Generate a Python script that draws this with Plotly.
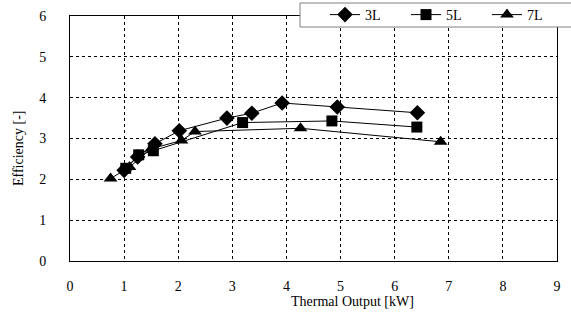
import plotly.graph_objects as go

x_3L = [1.00, 1.25, 1.57, 2.02, 2.90, 3.36, 3.92, 4.94, 6.42]
y_3L = [2.22, 2.55, 2.87, 3.19, 3.50, 3.62, 3.87, 3.77, 3.63]
x_5L = [1.03, 1.27, 1.54, 3.19, 4.84, 6.41]
y_5L = [2.27, 2.60, 2.70, 3.39, 3.43, 3.28]
x_7L = [0.75, 1.10, 1.50, 2.06, 2.31, 4.26, 6.85]
y_7L = [2.02, 2.30, 2.75, 2.95, 3.17, 3.25, 2.92]

x_ticks = [0, 1, 2, 3, 4, 5, 6, 7, 8, 9]
y_ticks = [0, 1, 2, 3, 4, 5, 6]

FONT = "Liberation Serif, DejaVu Serif, serif"

fig = go.Figure()
series = [("3L", x_3L, y_3L, "diamond", 12),
          ("5L", x_5L, y_5L, "square", 11),
          ("7L", x_7L, y_7L, "triangle-up", 12)]
for name, xs, ys, sym, sz in series:
    fig.add_trace(go.Scatter(x=xs, y=ys, name=name, mode="lines+markers",
                             line=dict(color="black", width=1),
                             marker=dict(symbol=sym, size=sz, color="black")))

L, R, T, B = 70, 557, 16, 261
W, H = R - L, B - T

def px(x):
    return (x - L) / W

def py(y):
    return (B - y) / H

fig.update_layout(
    width=571, height=320,
    margin=dict(l=L, r=571 - R, t=T, b=320 - B, autoexpand=False),
    paper_bgcolor="white", plot_bgcolor="white",
    font=dict(family=FONT, size=14, color="black"),
    showlegend=True,
    legend=dict(orientation="h", x=px(325), y=py(-1),
                xanchor="left", yanchor="top",
                bgcolor="rgba(0,0,0,0)", borderwidth=0,
                font=dict(family=FONT, size=14), itemwidth=30,
                entrywidth=36, entrywidthmode="pixels", tracegroupgap=0),
    xaxis=dict(range=[0, 9], tickvals=x_ticks, showgrid=True, gridcolor="black",
               griddash="dot", gridwidth=1, showline=True, linecolor="black",
               mirror=True, zeroline=False, ticks="", ticklabelstandoff=12,
               tickfont=dict(size=14)),
    yaxis=dict(range=[0, 6], tickvals=y_ticks, showgrid=True, gridcolor="black",
               griddash="dot", gridwidth=1, showline=True, linecolor="black",
               mirror=True, zeroline=False, ticks="", ticklabelstandoff=20,
               tickfont=dict(size=14)),
    shapes=[dict(type="rect", xref="paper", yref="paper", layer="above",
                 x0=px(300), x1=px(580), y0=py(27), y1=py(3),
                 fillcolor="white", line=dict(color="#808080", width=1))],
    annotations=[
        dict(text="Thermal Output [kW]", xref="paper", yref="paper",
             x=px(352), y=py(301), xanchor="center", yanchor="middle",
             showarrow=False, font=dict(family=FONT, size=14)),
        dict(text="Efficiency [-]", xref="paper", yref="paper",
             x=px(18), y=py(148), xanchor="center", yanchor="middle",
             textangle=-90, showarrow=False, font=dict(family=FONT, size=14)),
    ],
)

fig.write_html("out.html", config={"displayModeBar": False},
               post_script="document.body.style.margin='0';")
